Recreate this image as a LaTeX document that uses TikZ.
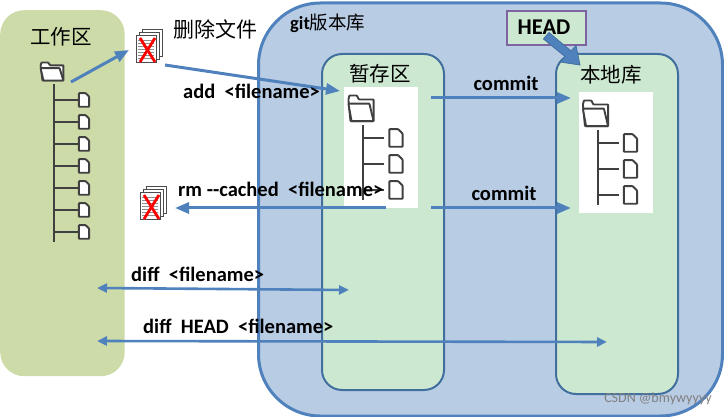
\documentclass[tikz,border=0pt]{standalone}
\usepackage{fontspec}
\setmainfont{Carlito}
\newfontfamily\cjk{Noto Sans CJK SC}
\usetikzlibrary{arrows.meta}
\definecolor{workgreen}{HTML}{CDDBA8}
\definecolor{repoblue}{HTML}{B8CCE4}
\definecolor{linkblue}{HTML}{4F81BD}
\definecolor{edgeblue}{HTML}{41709F}
\definecolor{areagreen}{HTML}{CDE8D0}
\definecolor{headviolet}{HTML}{8064A2}
\definecolor{icongrey}{HTML}{404040}
\tikzset{
  region/.style={rectangle,anchor=north west,inner sep=0pt},
  cmdlabel/.style={inner sep=0pt,font=\fontsize{20.5}{24}\selectfont\bfseries},
  cjklabel/.style={inner sep=0pt,font=\fontsize{20.5}{24}\selectfont\cjk},
  link/.style={draw=linkblue,line width=3pt,-{Triangle[length=14pt,width=11pt]}},
  twolink/.style={draw=linkblue,line width=2.6pt,{Triangle[length=10pt,width=9pt]}-{Triangle[length=10pt,width=9pt]}},
  treeline/.style={draw=icongrey,line width=2pt},
  filebox/.style={draw=icongrey,line width=1.9pt,fill=white,rounded corners=.6pt},
  foldertop/.pic={
    \draw[filebox] (-12,-7) -- (-11,-10) -- (-4,-10) -- (-2,-7) -- (12,-7) -- (12,9) -- (-10,9) -- cycle;
    \draw[filebox] (-12,-4) -- (8,-4) -- (12,9) -- (-9,9) -- cycle;
  },
  sheet/.pic={
    \draw[filebox] (-6,-8) -- (2,-8) -- (6,-4) -- (6,8) -- (-6,8) -- cycle;
  },
  pages/.pic={
    \foreach \dx/\dy in {6/-6,3/-3}
      \draw[draw=black!70,fill=white,line width=.7pt] (\dx,\dy) rectangle ++(20,27);
    \draw[draw=black!70,fill=white,line width=.7pt] (0,0) rectangle ++(20,27);
    \foreach \ly in {5,8,...,23}
      \draw[black!45,line width=.7pt] (2,\ly) -- (18,\ly);
    \draw[red,line width=2.8pt] (4,3) -- (19,27);
    \draw[red,line width=2.8pt] (19,3) -- (4,27);
  }
}
\begin{document}
\begin{tikzpicture}[x=1pt,y=-1pt]
  \useasboundingbox (0,0) rectangle (724,417);

  % Areas
  \node[region,fill=workgreen,rounded corners=24pt,minimum width=124.5pt,minimum height=366pt] (workarea) at (0,10) {};
  \node[region,fill=repoblue,draw=linkblue,line width=3pt,rounded corners=62pt,minimum width=464pt,minimum height=413pt] (repo) at (257,1.5) {};
  \node[region,fill=areagreen,draw=edgeblue,line width=2pt,rounded corners=20pt,minimum width=122pt,minimum height=336pt] (stage) at (321,53) {};
  \node[region,fill=areagreen,draw=edgeblue,line width=2pt,rounded corners=20pt,minimum width=122pt,minimum height=340pt] (local) at (555,53) {};
  \node[region,fill=white,minimum width=74pt,minimum height=121pt] (stagepaper) at (344,87) {};
  \node[region,fill=white,minimum width=74pt,minimum height=121pt] (localpaper) at (579,92) {};
  \node[region,fill=areagreen,draw=headviolet,line width=1.6pt,minimum width=79pt,minimum height=34pt] (head) at (506,10) {};

  % Working tree
  \pic[scale=.95] at (52,72) {foldertop};
  \draw[treeline] (54,84) -- (54,242);
  \foreach \fy in {100,122,144,166,188,210,232} {
    \draw[treeline] (54,\fy) -- (79,\fy);
    \pic[scale=.85] at (84,\fy) {sheet};
  }

  % Stage and local trees
  \foreach \tx/\ty in {0/0,234.5/5} {
    \begin{scope}[shift={(\tx,\ty)}]
      \pic[xscale=1.05,yscale=1.35] at (361,109) {foldertop};
      \draw[treeline] (363,125) -- (363,200);
      \foreach \fy in {138,164,190} {
        \draw[treeline] (363,\fy) -- (384,\fy);
        \pic[scale=1.1] at (396,\fy) {sheet};
      }
    \end{scope}
  }

  % Removed files
  \pic at (136,35) {pages};
  \pic at (140,192) {pages};

  % Arrow ends
  \coordinate (workout) at (71,82);
  \coordinate (delin) at (129,50);
  \coordinate (delout) at (165,65);
  \coordinate (stagein) at (340,91);
  \coordinate (rmout) at (386,208);
  \coordinate (rmin) at (175,208);
  \coordinate (stageout) at (431,98);
  \coordinate (localin) at (571,98);
  \coordinate (stagebot) at (431,208);
  \coordinate (localbot) at (571,208);
  \coordinate (diffl) at (97,288);
  \coordinate (diffr) at (349,290);
  \coordinate (headl) at (97,341);
  \coordinate (headr) at (607,342);

  % Arrows
  \foreach \from/\to in {workout/delin, delout/stagein, rmout/rmin, stageout/localin, stagebot/localbot}
    \draw[link] (\from) -- (\to);
  \foreach \from/\to in {diffl/diffr, headl/headr}
    \draw[twolink] (\from) -- (\to);

  % Labels
  \node[cjklabel] (worklabel) at (61,37) {工作区};
  \node[cjklabel,font=\fontsize{21}{25}\selectfont\cjk] (dellabel) at (215,29) {删除文件};
  \node[inner sep=0pt,anchor=west,font=\fontsize{18.5}{22}\selectfont] (repolabel) at (290,23) {\textbf{git}{\cjk 版本库}};
  \node[cjklabel] (stagelabel) at (380,74) {暂存区};
  \node[cjklabel] (locallabel) at (611,75) {本地库};
  \node[cmdlabel,font=\fontsize{22.5}{26}\selectfont\bfseries] (headlabel) at (544,27) {HEAD};
  \node[cmdlabel,anchor=west] (addlabel) at (183,91) {add\ \ <filename>};
  \node[cmdlabel,anchor=west] (rmlabel) at (178,189) {rm -{}-cached\ \ <filename>};
  \node[cmdlabel] (commitup) at (506,83) {commit};
  \node[cmdlabel] (commitdown) at (504,193) {commit};
  \node[cmdlabel,anchor=west] (difflabel) at (131,274) {diff\ \ <filename>};
  \node[cmdlabel,anchor=west] (headdiff) at (143,326) {diff\ \ HEAD\ \ <filename>};
  \node[inner sep=0pt,anchor=east,text=black!50,font=\fontsize{14}{16}\selectfont] (mark) at (712,399) {CSDN @bmywyyyy};

  % Head pointer
  \draw[draw=edgeblue,fill=linkblue,line width=.8pt] (543.5,39) -- (549,32.5) -- (571,51) -- (576,45.5) -- (580,65) -- (560,62) -- (565,56.5) -- cycle;
\end{tikzpicture}
\end{document}
